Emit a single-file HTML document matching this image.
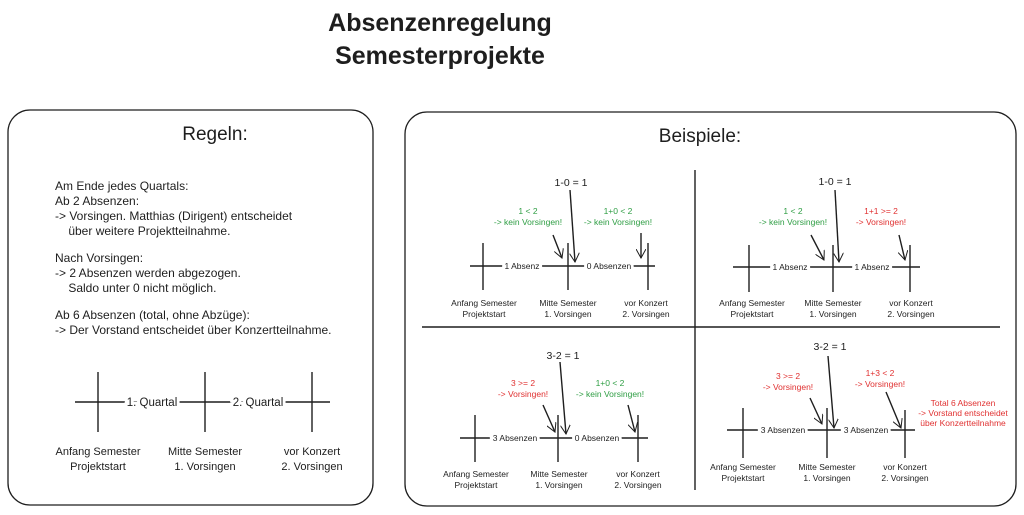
<!DOCTYPE html>
<html><head><meta charset="utf-8"><style>
html,body{margin:0;padding:0;background:#fff;width:1024px;height:515px;overflow:hidden}
svg text{font-family:"Liberation Sans",sans-serif;fill:#1e1e1e}
.s{font-size:8.5px;text-anchor:middle}
.l{font-size:12px}
.g{fill:#2f9e44!important}
.r{fill:#e03131!important}
.bg{paint-order:stroke;stroke:#fff;stroke-width:6px}
</style></head><body>
<svg width="1024" height="515" viewBox="0 0 1024 515" xmlns="http://www.w3.org/2000/svg">
<defs>
<marker id="a" markerWidth="10" markerHeight="10" refX="9" refY="5" orient="auto" markerUnits="userSpaceOnUse"><path d="M0,0 L9,5 L0,10" fill="none" stroke="#1e1e1e" stroke-width="1"/></marker>
</defs>
<text x="440" y="31" font-size="25" font-weight="bold" text-anchor="middle">Absenzenregelung</text>
<text x="440" y="64" font-size="25" font-weight="bold" text-anchor="middle">Semesterprojekte</text>
<rect x="8" y="110" width="365" height="395" rx="22" fill="none" stroke="#1e1e1e" stroke-width="1.3"/>
<rect x="405" y="112" width="611" height="394" rx="22" fill="none" stroke="#1e1e1e" stroke-width="1.3"/>
<text x="215" y="140" font-size="19" text-anchor="middle">Regeln:</text>
<text x="700" y="142" font-size="19" text-anchor="middle">Beispiele:</text>
<text x="55" y="190" class="l">Am Ende jedes Quartals:</text>
<text x="55" y="205" class="l">Ab 2 Absenzen:</text>
<text x="55" y="220" class="l">-&gt; Vorsingen. Matthias (Dirigent) entscheidet</text>
<text x="55" y="235" class="l">&#160;&#160;&#160;&#160;über weitere Projektteilnahme.</text>
<text x="55" y="262" class="l">Nach Vorsingen:</text>
<text x="55" y="277" class="l">-&gt; 2 Absenzen werden abgezogen.</text>
<text x="55" y="292" class="l">&#160;&#160;&#160;&#160;Saldo unter 0 nicht möglich.</text>
<text x="55" y="319" class="l">Ab 6 Absenzen (total, ohne Abzüge):</text>
<text x="55" y="334" class="l">-&gt; Der Vorstand entscheidet über Konzertteilnahme.</text>
<g stroke="#1e1e1e" stroke-width="1.4" fill="none">
<line x1="75" y1="402" x2="330" y2="402"/>
<line x1="98" y1="372" x2="98" y2="432"/><line x1="205" y1="372" x2="205" y2="432"/><line x1="312" y1="372" x2="312" y2="432"/>
<line x1="695" y1="170" x2="695" y2="490"/><line x1="422" y1="327" x2="1000" y2="327"/>
<line x1="470" y1="266" x2="655" y2="266"/>
<line x1="483" y1="243" x2="483" y2="290"/><line x1="568" y1="243" x2="568" y2="290"/><line x1="648" y1="243" x2="648" y2="290"/>
<line x1="570" y1="190" x2="575" y2="262" marker-end="url(#a)"/>
<line x1="553" y1="235" x2="562" y2="258" marker-end="url(#a)"/>
<line x1="641" y1="233" x2="641" y2="258" marker-end="url(#a)"/>
<line x1="733" y1="267" x2="920" y2="267"/>
<line x1="749" y1="245" x2="749" y2="292"/><line x1="833" y1="245" x2="833" y2="292"/><line x1="910" y1="245" x2="910" y2="292"/>
<line x1="835" y1="190" x2="839" y2="262" marker-end="url(#a)"/>
<line x1="811" y1="235" x2="824" y2="260" marker-end="url(#a)"/>
<line x1="899" y1="235" x2="905" y2="260" marker-end="url(#a)"/>
<line x1="460" y1="438" x2="648" y2="438"/>
<line x1="475" y1="415" x2="475" y2="462"/><line x1="558" y1="415" x2="558" y2="462"/><line x1="638" y1="415" x2="638" y2="462"/>
<line x1="560" y1="362" x2="566" y2="434" marker-end="url(#a)"/>
<line x1="543" y1="405" x2="555" y2="432" marker-end="url(#a)"/>
<line x1="628" y1="405" x2="635" y2="432" marker-end="url(#a)"/>
<line x1="727" y1="430" x2="915" y2="430"/>
<line x1="743" y1="408" x2="743" y2="458"/><line x1="827" y1="408" x2="827" y2="458"/><line x1="905" y1="410" x2="905" y2="458"/>
<line x1="828" y1="356" x2="834" y2="428" marker-end="url(#a)"/>
<line x1="810" y1="398" x2="822" y2="424" marker-end="url(#a)"/>
<line x1="886" y1="392" x2="901" y2="428" marker-end="url(#a)"/>
</g>
<text x="152" y="406" font-size="11.5" text-anchor="middle" class="bg">1. Quartal</text>
<text x="258" y="406" font-size="11.5" text-anchor="middle" class="bg">2. Quartal</text>
<g font-size="11" text-anchor="middle">
<text x="98" y="455">Anfang Semester</text><text x="98" y="470">Projektstart</text>
<text x="205" y="455">Mitte Semester</text><text x="205" y="470">1. Vorsingen</text>
<text x="312" y="455">vor Konzert</text><text x="312" y="470">2. Vorsingen</text>
</g>
<text x="571" y="186" font-size="10.5" text-anchor="middle">1-0 = 1</text>
<text x="528" y="214" class="s g">1 &lt; 2</text><text x="528" y="225" class="s g">-&gt; kein Vorsingen!</text>
<text x="618" y="214" class="s g">1+0 &lt; 2</text><text x="618" y="225" class="s g">-&gt; kein Vorsingen!</text>
<text x="522" y="269" class="s bg">1 Absenz</text><text x="609" y="269" class="s bg">0 Absenzen</text>
<text x="484" y="306" class="s">Anfang Semester</text><text x="484" y="317" class="s">Projektstart</text>
<text x="568" y="306" class="s">Mitte Semester</text><text x="568" y="317" class="s">1. Vorsingen</text>
<text x="646" y="306" class="s">vor Konzert</text><text x="646" y="317" class="s">2. Vorsingen</text>
<text x="835" y="185" font-size="10.5" text-anchor="middle">1-0 = 1</text>
<text x="793" y="214" class="s g">1 &lt; 2</text><text x="793" y="225" class="s g">-&gt; kein Vorsingen!</text>
<text x="881" y="214" class="s r">1+1 &gt;= 2</text><text x="881" y="225" class="s r">-&gt; Vorsingen!</text>
<text x="790" y="270" class="s bg">1 Absenz</text><text x="872" y="270" class="s bg">1 Absenz</text>
<text x="752" y="306" class="s">Anfang Semester</text><text x="752" y="317" class="s">Projektstart</text>
<text x="833" y="306" class="s">Mitte Semester</text><text x="833" y="317" class="s">1. Vorsingen</text>
<text x="911" y="306" class="s">vor Konzert</text><text x="911" y="317" class="s">2. Vorsingen</text>
<text x="563" y="359" font-size="10.5" text-anchor="middle">3-2 = 1</text>
<text x="523" y="386" class="s r">3 &gt;= 2</text><text x="523" y="397" class="s r">-&gt; Vorsingen!</text>
<text x="610" y="386" class="s g">1+0 &lt; 2</text><text x="610" y="397" class="s g">-&gt; kein Vorsingen!</text>
<text x="515" y="441" class="s bg">3 Absenzen</text><text x="597" y="441" class="s bg">0 Absenzen</text>
<text x="476" y="477" class="s">Anfang Semester</text><text x="476" y="488" class="s">Projektstart</text>
<text x="559" y="477" class="s">Mitte Semester</text><text x="559" y="488" class="s">1. Vorsingen</text>
<text x="638" y="477" class="s">vor Konzert</text><text x="638" y="488" class="s">2. Vorsingen</text>
<text x="830" y="350" font-size="10.5" text-anchor="middle">3-2 = 1</text>
<text x="788" y="379" class="s r">3 &gt;= 2</text><text x="788" y="390" class="s r">-&gt; Vorsingen!</text>
<text x="880" y="376" class="s r">1+3 &lt; 2</text><text x="880" y="387" class="s r">-&gt; Vorsingen!</text>
<text x="963" y="406" class="s r">Total 6 Absenzen</text><text x="963" y="416" class="s r">-&gt; Vorstand entscheidet</text><text x="963" y="426" class="s r">über Konzertteilnahme</text>
<text x="783" y="433" class="s bg">3 Absenzen</text><text x="866" y="433" class="s bg">3 Absenzen</text>
<text x="743" y="470" class="s">Anfang Semester</text><text x="743" y="481" class="s">Projektstart</text>
<text x="827" y="470" class="s">Mitte Semester</text><text x="827" y="481" class="s">1. Vorsingen</text>
<text x="905" y="470" class="s">vor Konzert</text><text x="905" y="481" class="s">2. Vorsingen</text>
</svg>
</body></html>
